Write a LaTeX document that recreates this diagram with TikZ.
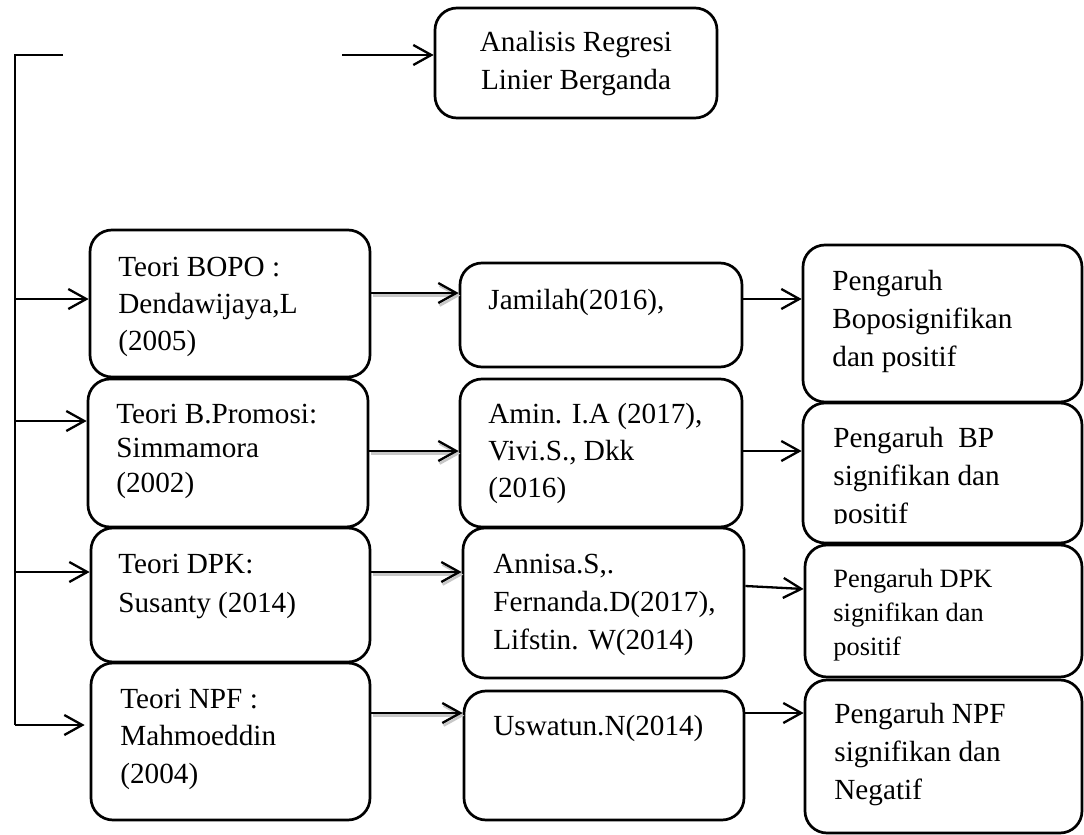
\documentclass[tikz,border=0pt]{standalone}
\usepackage{fontspec}
\setmainfont{Liberation Serif}
\usetikzlibrary{arrows.meta}
\newcommand{\boxlines}[3]{\parbox[t]{150pt}{\fontsize{#1}{#2}\selectfont #3}}
\newcommand{\boxlinesc}[3]{\parbox[t]{141pt}{\centering\fontsize{#1}{#2}\selectfont #3}}
\begin{document}
\begin{tikzpicture}[x=0.5pt,y=-0.5pt,
  box/.style={draw,line width=1.35pt,rounded corners=11pt,inner sep=0pt},
  arr/.style={line width=1.15pt,-{Straight Barb[length=9pt,width=10pt,line width=1.15pt]}},
  shd/.style={line width=1.3pt,black!22,transform canvas={shift={(0.8pt,-1.3pt)}},-{Straight Barb[length=9pt,width=10pt,line width=1.3pt]}},
  txt/.style={inner sep=0pt,anchor=base west},
  ctxt/.style={inner sep=0pt,anchor=base},
  ]
\useasboundingbox (0,0) rectangle (1084,835);

% boxes
\node[box,minimum width=141pt,minimum height=55pt] (A) at (576,63) {};
\node[box,minimum width=140pt,minimum height=73.5pt] (T1) at (230,303.5) {};
\node[box,minimum width=140pt,minimum height=74pt] (T2) at (228,453) {};
\node[box,minimum width=139.5pt,minimum height=67pt] (T3) at (230.5,595) {};
\node[box,minimum width=139.5pt,minimum height=78.5pt] (T4) at (230.5,741.5) {};
\node[box,minimum width=141pt,minimum height=52pt] (J1) at (601,315) {};
\node[box,minimum width=141pt,minimum height=74pt] (J2) at (601,453) {};
\node[box,minimum width=140.5pt,minimum height=75pt] (J3) at (603.5,603) {};
\node[box,minimum width=140pt,minimum height=64.5pt] (J4) at (604,755.5) {};
\node[box,minimum width=139.5pt,minimum height=78.5pt] (P1) at (942.5,323.5) {};
\node[box,minimum width=139.5pt,minimum height=70pt] (P2) at (942.5,473) {};
\node[box,minimum width=138.5pt,minimum height=66pt] (P3) at (943.5,611) {};
\node[box,minimum width=138.5pt,minimum height=76.5pt] (P4) at (943.5,756.5) {};

% texts
\node[ctxt] (At) at (576,52) {\boxlinesc{14.6}{19}{Analisis Regresi\\Linier Berganda}};
\node[txt] (T1t) at (118,276) {\boxlines{14.6}{18.5}{Teori BOPO :\\Dendawijaya,L\\(2005)}};
\node[txt] (T2t) at (116,423) {\boxlines{14.6}{17.3}{Teori B.Promosi:\\Simmamora\\(2002)}};
\node[txt] (T3t) at (118,573) {\boxlines{14.6}{19.5}{Teori DPK:\\Susanty (2014)}};
\node[txt] (T4t) at (120,708) {\boxlines{14.6}{18.8}{Teori NPF :\\Mahmoeddin\\(2004)}};
\node[txt] (J1t) at (488,309) {\boxlines{14.6}{18.5}{Jamilah(2016),}};
\node[txt] (J2t) at (488,423) {\boxlines{14.6}{18.6}{Amin. I.A (2017),\\Vivi.S., Dkk\\(2016)}};
\node[txt] (J3t) at (493,573) {\boxlines{14.6}{19.2}{Annisa.S,.\\Fernanda.D(2017),\\Lifstin. W(2014)}};
\node[txt] (J4t) at (493,735) {\boxlines{14.6}{18.5}{Uswatun.N(2014)}};
\node[txt] (P1t) at (832,290) {\boxlines{14.6}{19.2}{Pengaruh\\Boposignifikan\\dan positif}};
\begin{scope}
\clip (803,403) rectangle (1083,523);
\node[txt] (P2t) at (833,447) {\boxlines{14.6}{19}{Pengaruh\ \ BP\\signifikan dan\\positif}};
\end{scope}
\node[txt] (P3t) at (833,587) {\boxlines{13.2}{17}{Pengaruh DPK\\signifikan dan\\positif}};
\node[txt] (P4t) at (834,723) {\boxlines{14.6}{19.2}{Pengaruh NPF\\signifikan dan\\Negatif}};

% coordinates
\coordinate (a0) at (342,55);
\coordinate (c0) at (15,55);
\coordinate (c1) at (63,55);
\coordinate (c4) at (15,725);
\coordinate (l1) at (15,299);
\coordinate (l2) at (15,421);
\coordinate (l3) at (15,572);
\coordinate (m1) at (0,293);
\coordinate (m2) at (0,451);
\coordinate (m3) at (0,572);
\coordinate (m4) at (0,713);
\coordinate (r1) at (0,299);
\coordinate (r2) at (0,451);
\coordinate (r3a) at (0,586);
\coordinate (r3b) at (0,589);
\coordinate (r4) at (0,713);

% left bus
\draw[line width=1.2pt] (c1) -- (c0) -- (c4);
\draw[arr] (a0) -- (a0 -| A.west);
\draw[arr] (l1) -- (l1 -| T1.west);
\draw[arr] (l2) -- (l2 -| T2.west);
\draw[arr] (l3) -- (l3 -| T3.west);
\draw[arr,shorten >=2.5pt] (c4) -- (c4 -| T4.west);

% theory -> research (with shadow)
\draw[shd] (T1.east |- m1) -- (J1.west |- m1);
\draw[shd] (T2.east |- m2) -- (J2.west |- m2);
\draw[shd] (T3.east |- m3) -- (J3.west |- m3);
\draw[shd] (T4.east |- m4) -- (J4.west |- m4);
\draw[arr] (T1.east |- m1) -- (J1.west |- m1);
\draw[arr] (T2.east |- m2) -- (J2.west |- m2);
\draw[arr] (T3.east |- m3) -- (J3.west |- m3);
\draw[arr] (T4.east |- m4) -- (J4.west |- m4);

% research -> result
\draw[arr] (J1.east |- r1) -- (P1.west |- r1);
\draw[arr] (J2.east |- r2) -- (P2.west |- r2);
\draw[arr] (J3.east |- r3a) -- (P3.west |- r3b);
\draw[arr] (J4.east |- r4) -- (P4.west |- r4);
\end{tikzpicture}
\end{document}
